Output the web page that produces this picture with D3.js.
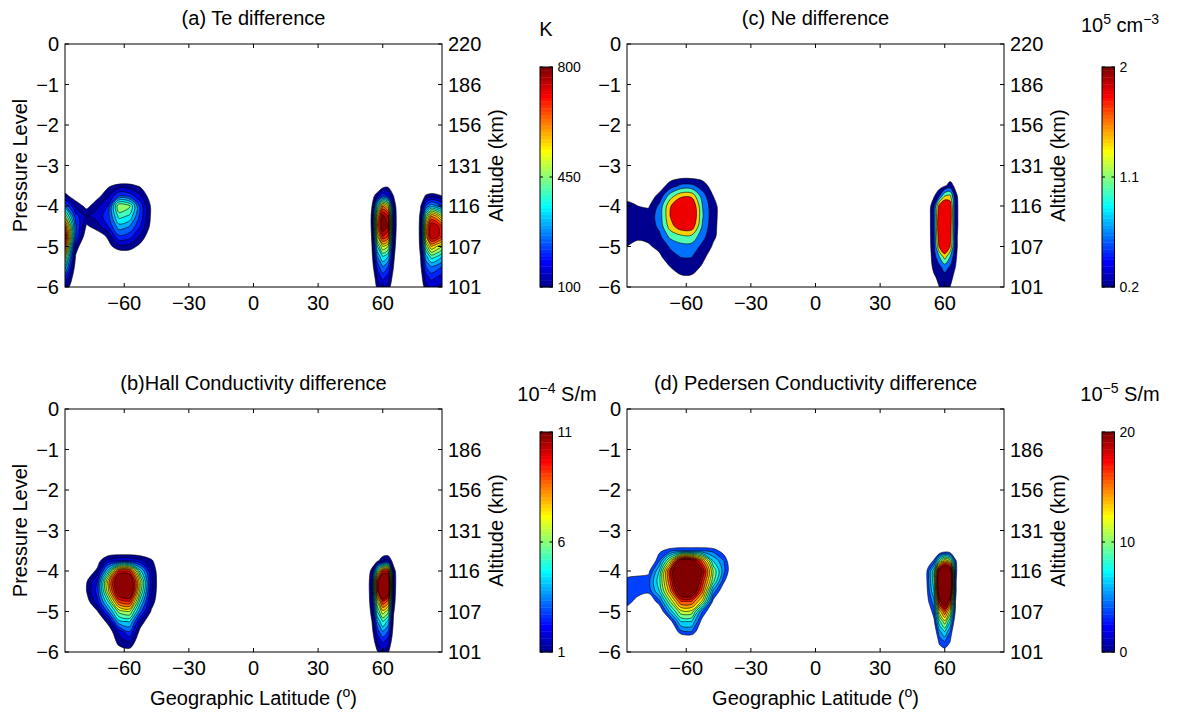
<!DOCTYPE html>
<html>
<head>
<meta charset="utf-8">
<script src="https://cdn.jsdelivr.net/npm/d3@7/dist/d3.min.js"></script>
<style>
body { margin: 0; background: #fff; }
text { font-family: "Liberation Sans", Arial, Helvetica, sans-serif; fill: #000; }
</style>
</head>
<body>
<div id="chart"></div>
<script>
var latTicks = [-60, -30, 0, 30, 60];
var levelTicks = [0, -1, -2, -3, -4, -5, -6];
var altLabelsTop = ["220", "186", "156", "131", "116", "107", "101"];
var altLabelsBottom = ["", "186", "156", "131", "116", "107", "101"];

// contour levels of each panel
var teLevels = [100, 150, 200, 250, 300, 350, 400, 450, 500, 550, 600, 650, 700, 750, 800];
var hallLevels = [1, 1.75, 2.5, 3.25, 4, 4.75, 5.5, 6.25, 7, 7.75, 8.5, 9.25, 10, 10.75];
var neLevels = [0.2, 0.6, 1.0, 1.4, 1.8];
var pedLevels = [3.5, 5, 6.5, 8, 9.5, 11, 12.5, 14, 15.5, 17, 18.5, 20];

// gridded differences.
// lat0 = latitude of first column, dlat = column step, lev0 = pressure level of first row,
// rows go down in steps of 0.25 level. Outside a patch the difference is below the first level.
var teSouth = {lat0: -87.5, dlat: 5, lev0: -3.5, rows: [
  [ 40,   0,   0,   0,  90, 120, 120,  90,   0],
  [120,  60,  20,  80, 140, 250, 230, 160,  60],
  [300, 140,  80, 140, 200, 500, 460, 230,  90],
  [500, 220, 150, 170, 230, 420, 390, 230,  90],
  [700, 260,  90, 130, 200, 330, 300, 200,  80],
  [780, 250,  40,  60, 110, 240, 220, 140,  50],
  [700, 140,   0,   0,  80, 130, 130,  80,   0],
  [520,  90,   0,   0,   0,  40,  40,   0,   0],
  [380,  60,   0,   0,   0,   0,   0,   0,   0],
  [250,  30,   0,   0,   0,   0,   0,   0,   0],
  [160,   0,   0,   0,   0,   0,   0,   0,   0]
]};
var teNorth60 = {lat0: 55, dlat: 2.5, lev0: -3.5, rows: [
  [  0,   0,  60,  80,   0],
  [ 60, 150, 250, 200, 100],
  [100, 400, 650, 550, 170],
  [120, 600, 820, 750, 200],
  [120, 650, 850, 800, 200],
  [110, 550, 750, 700, 180],
  [100, 400, 550, 500, 150],
  [ 80, 300, 400, 350, 120],
  [ 60, 220, 300, 250, 100],
  [ 30, 160, 220, 180,  70],
  [  0, 120, 160, 130,  40]
]};
var teNorthPole = {lat0: 77.5, dlat: 2.5, lev0: -3.75, rows: [
  [ 40, 110, 130, 120, 100],
  [ 90, 250, 330, 300, 250],
  [120, 450, 650, 600, 500],
  [130, 600, 800, 780, 700],
  [130, 600, 800, 780, 700],
  [120, 450, 600, 550, 500],
  [100, 330, 420, 400, 350],
  [ 80, 250, 300, 280, 250],
  [ 60, 180, 220, 200, 180],
  [ 40, 130, 160, 150, 130]
]};

var hallSouth = {lat0: -77.5, dlat: 5, lev0: -3.75, rows: [
  [0,   0.6, 2.0, 2.5,  2.5,  2.0, 1.2],
  [0.3, 1.2, 5,   10,   10,   5,   1.8],
  [0.9, 2.5, 8,   12.5, 12.5, 7,   2.0],
  [1.0, 2.8, 7.5, 12,   12.5, 6.5, 1.9],
  [0.5, 2.3, 5.5, 9.5,  10,   5,   1.5],
  [0,   0.9, 3.5, 6.5,  7,    3.5, 0.9],
  [0,   0,   1.3, 4.5,  4.8,  1.6, 0],
  [0,   0,   0.3, 2.0,  3.2,  0.6, 0],
  [0,   0,   0,   1.3,  1.7,  0.2, 0],
  [0,   0,   0,   0.5,  0.6,  0,   0]
]};
var hallNorth = {lat0: 55, dlat: 2.5, lev0: -3.75, rows: [
  [0,   0.8, 1.8,  2.0,  0.5],
  [1.4, 6,   10,   10,   1.5],
  [2.0, 10,  13,   12.5, 1.7],
  [2.0, 10,  13.5, 12,   1.6],
  [1.8, 7,   10,   9,    1.4],
  [1.4, 5.5, 7.5,  6.5,  1.1],
  [1.0, 4,   5.5,  4.5,  0.8],
  [0.6, 2.8, 4,    3.2,  0.5],
  [0.2, 1.8, 2.6,  2,    0.2],
  [0,   0.9, 1.6,  1.1,  0]
]};

var neSouth = {lat0: -87.5, dlat: 5, lev0: -3.5, rows: [
  [0,    0,    0,    0,    0.35, 0.7,  0.7,  0.4,  0,    0],
  [0,    0,    0,    0.3,  1.2,  1.7,  1.7,  0.8,  0.2,  0],
  [0.35, 0.2,  0.15, 0.7,  1.75, 2.3,  2.3,  1.0,  0.31, 0],
  [0.5,  0.4,  0.4,  0.75, 1.8,  2.4,  2.4,  1.05, 0.32, 0],
  [0.45, 0.35, 0.35, 0.7,  1.6,  2.1,  2.1,  0.95, 0.3,  0],
  [0.3,  0.25, 0.3,  0.5,  1.1,  1.3,  1.3,  0.75, 0.27, 0],
  [0.2,  0.12, 0.15, 0.3,  0.65, 0.85, 0.85, 0.5,  0.15, 0],
  [0,    0,    0,    0.12, 0.45, 0.62, 0.62, 0.3,  0,    0],
  [0,    0,    0,    0,    0.2,  0.38, 0.38, 0.15, 0,    0],
  [0,    0,    0,    0,    0,    0.15, 0.15, 0,    0,    0]
]};
var neNorth = {lat0: 55, dlat: 2.5, lev0: -3.5, rows: [
  [0,    0,   0.15, 0.35, 0.1],
  [0.15, 0.6, 1.4,  1.5,  0.3],
  [0.5,  2.0, 2.4,  2.1,  0.35],
  [0.6,  2.3, 2.6,  2.2,  0.35],
  [0.6,  2.4, 2.7,  2.1,  0.35],
  [0.55, 2.2, 2.6,  2.0,  0.3],
  [0.5,  1.9, 2.3,  1.8,  0.3],
  [0.4,  1.0, 1.6,  1.0,  0.25],
  [0.3,  0.5, 0.8,  0.55, 0.2],
  [0.15, 0.3, 0.45, 0.3,  0.1],
  [0,    0.2, 0.25, 0.2,  0]
]};

var pedSouth = {lat0: -87.5, dlat: 5, lev0: -3.5, rows: [
  [0,   0,   0,   3.0, 4.5, 5,  5,  5,   4.5, 2.5, 0],
  [0,   0,   0.5, 5,   12,  22, 22, 16,  8,   5,   0],
  [1.5, 2.5, 3.0, 8,   18,  27, 27, 20,  11,  5.5, 0.5],
  [4.5, 4.5, 4.5, 9,   17,  26, 26, 18,  10,  3.8, 0],
  [5,   4.5, 4,   8,   15,  23, 23, 16,  6,   1.5, 0],
  [4.5, 2.5, 1.5, 4.5, 11,  17, 17, 12,  3.0, 0.5, 0],
  [2,   1,   0.5, 1.5, 7,   12, 12, 5,   1,   0,   0],
  [0,   0,   0,   0,   2.5, 8,  8,  2.5, 0,   0,   0],
  [0,   0,   0,   0,   0.5, 4.5, 5, 1,   0,   0,   0]
]};
var pedNorth = {lat0: 52.5, dlat: 2.5, lev0: -3.5, rows: [
  [0,   0,   1,   2,   1.5, 0],
  [1.5, 4,   10,  14,  12,  4],
  [5,   9,   22,  26,  23,  4.5],
  [5,   9,   24,  28,  25,  4],
  [4.5, 8,   23,  27,  23,  4],
  [3.5, 6,   19,  23,  18,  3.5],
  [2,   4.5, 13,  17,  12,  3],
  [0.5, 3,   9,   12,  8,   1.5],
  [0,   1.5, 6,   8,   5,   0.5],
  [0,   0,   4,   5,   3.5, 0],
  [0,   0,   2,   2.5, 1.5, 0]
]};

var panels = [
  {key: "a", title: "(a) Te difference", left: 65, top: 44, levels: teLevels, cmin: 100, cmax: 800,
   cbTicks: [100, 450, 800], patches: [teSouth, teNorth60, teNorthPole], alt: altLabelsTop,
   yLabel: true, xLabel: false, unit: [["K", 0]], unitX: 546, unitY: 36},
  {key: "b", title: "(b)Hall Conductivity difference", left: 65, top: 409, levels: hallLevels, cmin: 1, cmax: 11,
   cbTicks: [1, 6, 11], patches: [hallSouth, hallNorth], alt: altLabelsBottom,
   yLabel: true, xLabel: true, unit: [["10", 0], ["\u22124", 1], [" S/m", 0]], unitX: 557, unitY: 401},
  {key: "c", title: "(c) Ne difference", left: 627, top: 44, levels: neLevels, cmin: 0.2, cmax: 2,
   cbTicks: [0.2, 1.1, 2], patches: [neSouth, neNorth], alt: altLabelsTop,
   yLabel: false, xLabel: false, unit: [["10", 0], ["5", 1], [" cm", 0], ["\u22123", 1]], unitX: 1120, unitY: 32},
  {key: "d", title: "(d) Pedersen Conductivity difference", left: 627, top: 409, levels: pedLevels, cmin: 0, cmax: 20,
   cbTicks: [0, 10, 20], patches: [pedSouth, pedNorth], alt: altLabelsBottom,
   yLabel: false, xLabel: true, unit: [["10", 0], ["\u22125", 1], [" S/m", 0]], unitX: 1120, unitY: 401}
];

var width = 1178, height = 717;
var plotW = 377, plotH = 243;

var svg = d3.select("#chart").append("svg")
    .attr("width", width)
    .attr("height", height);

var jet = jetColormap(64);

// MATLAB jet(m)
function jetColormap(m) {
  var n = Math.ceil(m / 4), u = [], i;
  for (i = 1; i <= n; i++) u.push(i / n);
  for (i = 1; i < n; i++) u.push(1);
  for (i = n; i >= 1; i--) u.push(i / n);
  var g0 = Math.ceil(n / 2) - (m % 4 === 1 ? 1 : 0);
  var map = [];
  for (i = 0; i < m; i++) map.push([0, 0, 0]);
  u.forEach(function(v, k) {
    var g = g0 + k + 1, r = g + n, b = g - n;
    if (g >= 1 && g <= m) map[g - 1][1] = v;
    if (r >= 1 && r <= m) map[r - 1][0] = v;
    if (b >= 1 && b <= m) map[b - 1][2] = v;
  });
  return map.map(function(c) {
    return d3.rgb(Math.round(c[0] * 255), Math.round(c[1] * 255), Math.round(c[2] * 255)).formatHex();
  });
}

function colorOf(v, p) {
  var idx = Math.floor((v - p.cmin) / (p.cmax - p.cmin) * jet.length + 1e-9);
  return jet[Math.max(0, Math.min(jet.length - 1, idx))];
}

function fmt(v) {
  return (v < 0 ? "\u2212" : "") + Math.abs(v);
}

function addRich(sel, parts, big, small) {
  parts.forEach(function(part) {
    sel.append("tspan")
        .attr("font-size", part[1] ? small : big)
        .attr("baseline-shift", part[1] ? "55%" : null)
        .text(part[0]);
  });
}

panels.forEach(drawPanel);

function drawPanel(p) {
  var x = d3.scaleLinear().domain([-87.5, 87.5]).range([p.left, p.left + plotW]);
  var y = d3.scaleLinear().domain([-6, 0]).range([p.top + plotH, p.top]);
  var g = svg.append("g").attr("class", "panel-" + p.key);

  svg.append("clipPath").attr("id", "clip-" + p.key)
    .append("rect")
      .attr("x", p.left)
      .attr("y", p.top)
      .attr("width", plotW)
      .attr("height", plotH);

  var line = d3.line().curve(d3.curveCatmullRomClosed.alpha(0.5));
  var shapes = [];

  p.patches.forEach(function(patch) {
    var nx = patch.rows[0].length + 2, ny = patch.rows.length + 2;
    var values = new Array(nx * ny).fill(0);
    patch.rows.forEach(function(row, j) {
      row.forEach(function(v, i) { values[(j + 1) * nx + i + 1] = v; });
    });
    d3.contours().size([nx, ny]).thresholds(p.levels)(values).forEach(function(c) {
      if (!c.coordinates.length) return;
      var d = c.coordinates.map(function(poly) {
        return poly.map(function(ring) {
          return line(ring.slice(0, -1).map(function(pt) {
            return [x(patch.lat0 + (pt[0] - 1.5) * patch.dlat),
                    y(patch.lev0 - (pt[1] - 1.5) * 0.25)];
          }));
        }).join("");
      }).join("");
      shapes.push({value: c.value, d: d});
    });
  });
  shapes.sort(function(a, b) { return a.value - b.value; });

  var plot = g.append("g").attr("clip-path", "url(#clip-" + p.key + ")");
  plot.selectAll(".fill")
      .data(shapes)
    .enter().append("path")
      .attr("class", "fill")
      .attr("d", function(d) { return d.d; })
      .attr("fill", function(d) { return colorOf(d.value, p); })
      .attr("fill-rule", "evenodd");
  plot.selectAll(".iso")
      .data(shapes)
    .enter().append("path")
      .attr("class", "iso")
      .attr("d", function(d) { return d.d; })
      .attr("fill", "none")
      .attr("stroke", "#000")
      .attr("stroke-width", 0.6);

  // box and inward ticks
  g.append("rect")
      .attr("x", p.left)
      .attr("y", p.top)
      .attr("width", plotW)
      .attr("height", plotH)
      .attr("fill", "none")
      .attr("stroke", "#000")
      .attr("stroke-width", 1);

  var tl = 4;
  latTicks.forEach(function(t) {
    g.append("line").attr("x1", x(t)).attr("x2", x(t)).attr("y1", p.top + plotH).attr("y2", p.top + plotH - tl).attr("stroke", "#000");
    g.append("line").attr("x1", x(t)).attr("x2", x(t)).attr("y1", p.top).attr("y2", p.top + tl).attr("stroke", "#000");
    g.append("text")
        .attr("x", x(t))
        .attr("y", p.top + plotH + 23)
        .attr("text-anchor", "middle")
        .attr("font-size", 20)
        .text(fmt(t));
  });
  levelTicks.forEach(function(t, i) {
    g.append("line").attr("x1", p.left).attr("x2", p.left + tl).attr("y1", y(t)).attr("y2", y(t)).attr("stroke", "#000");
    g.append("line").attr("x1", p.left + plotW).attr("x2", p.left + plotW - tl).attr("y1", y(t)).attr("y2", y(t)).attr("stroke", "#000");
    g.append("text")
        .attr("x", p.left - 6)
        .attr("y", y(t))
        .attr("dy", "0.36em")
        .attr("text-anchor", "end")
        .attr("font-size", 20)
        .text(fmt(t));
    g.append("text")
        .attr("x", p.left + plotW + 6)
        .attr("y", y(t))
        .attr("dy", "0.36em")
        .attr("font-size", 20)
        .text(p.alt[i]);
  });

  g.append("text")
      .attr("x", p.left + plotW / 2)
      .attr("y", p.top - 19)
      .attr("text-anchor", "middle")
      .attr("font-size", 20)
      .text(p.title);

  g.append("text")
      .attr("transform", "translate(" + (p.left + plotW + 61) + "," + (p.top + plotH / 2) + ") rotate(-90)")
      .attr("text-anchor", "middle")
      .attr("font-size", 20)
      .text("Altitude (km)");

  if (p.yLabel) {
    g.append("text")
        .attr("transform", "translate(" + (p.left - 38) + "," + (p.top + plotH / 2) + ") rotate(-90)")
        .attr("text-anchor", "middle")
        .attr("font-size", 20)
        .text("Pressure Level");
  }
  if (p.xLabel) {
    var xl = g.append("text")
        .attr("x", p.left + plotW / 2)
        .attr("y", p.top + plotH + 53)
        .attr("text-anchor", "middle")
        .attr("font-size", 20);
    addRich(xl, [["Geographic Latitude (", 0], ["o", 1], [")", 0]], 20, 14);
  }

  // colorbar
  var cb = {x: p.left + 475, y: p.top + 23, w: 12.5, h: 220};
  var c = d3.scaleLinear().domain([p.cmin, p.cmax]).range([cb.y + cb.h, cb.y]);
  var step = (p.cmax - p.cmin) / jet.length;
  g.selectAll(".band")
      .data(jet)
    .enter().append("rect")
      .attr("class", "band")
      .attr("x", cb.x)
      .attr("y", function(d, i) { return c(p.cmin + (i + 1) * step); })
      .attr("width", cb.w)
      .attr("height", function(d, i) { return c(p.cmin + i * step) - c(p.cmin + (i + 1) * step) + 0.4; })
      .attr("fill", function(d) { return d; });
  g.append("rect")
      .attr("x", cb.x)
      .attr("y", cb.y)
      .attr("width", cb.w)
      .attr("height", cb.h)
      .attr("fill", "none")
      .attr("stroke", "#000")
      .attr("stroke-width", 1);
  p.cbTicks.forEach(function(t) {
    g.append("line").attr("x1", cb.x).attr("x2", cb.x + 3).attr("y1", c(t)).attr("y2", c(t)).attr("stroke", "#000");
    g.append("line").attr("x1", cb.x + cb.w - 3).attr("x2", cb.x + cb.w).attr("y1", c(t)).attr("y2", c(t)).attr("stroke", "#000");
    g.append("text")
        .attr("x", cb.x + cb.w + 5)
        .attr("y", c(t))
        .attr("dy", "0.36em")
        .attr("font-size", 14)
        .text(t);
  });
  var ut = g.append("text")
      .attr("x", p.unitX)
      .attr("y", p.unitY)
      .attr("text-anchor", "middle")
      .attr("font-size", 20);
  addRich(ut, p.unit, 20, 14);
}
</script>
</body>
</html>
